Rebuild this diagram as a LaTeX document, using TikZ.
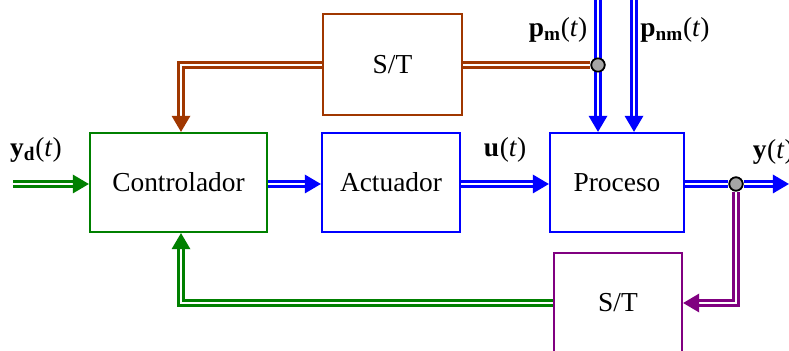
\documentclass[tikz,border=0pt]{standalone}
\usepackage{fontspec}
\setmainfont{Liberation Serif}
\usetikzlibrary{arrows.meta,positioning}

\definecolor{ctlgreen}{RGB}{0,128,0}
\definecolor{procblue}{RGB}{0,0,255}
\definecolor{stbrown}{RGB}{160,55,0}
\definecolor{stpurple}{RGB}{128,0,128}

\newcommand{\sig}[2]{\textbf{#1}\textsubscript{\textbf{#2}}(\textit{t})}

\begin{document}
\begin{tikzpicture}[
    font=\fontsize{19.5}{23}\selectfont,
    block/.style={draw, line width=1.5pt, minimum height=2.475cm, inner sep=0pt},
    signal/.style={line width=1.9pt, double=white, double distance=1.9pt, line join=miter},
    tip/.style={-{Triangle[length=11.5pt, width=13pt]}},
    junction/.style={circle, draw=black, fill=gray!70, line width=1.2pt, inner sep=0pt, minimum size=9.5pt}
  ]
  \useasboundingbox (0,0) rectangle (19.725,8.75);

  % blocks
  \node [block, draw=ctlgreen, minimum width=4.425cm] (ctrl) at (4.4625,4.1875) { Controlador };
  \node [block, draw=procblue, minimum width=3.45cm] (act) at (9.775,4.1875) { Actuador };
  \node [block, draw=procblue, minimum width=3.35cm] (proc) at (15.425,4.1875) { Proceso };
  \node [block, draw=stbrown, minimum width=3.475cm, minimum height=2.525cm] (stm) at (9.8125,7.1375) { S/T };
  \node [block, draw=stpurple, minimum width=3.2cm, minimum height=2.5cm] (sty) at (15.45,1.175) { S/T };

  % labels
  \node (lyd) at (0.9,5.0) { \sig{y}{d} };
  \node (lu) at (12.625,5.0) { \sig{u}{} };
  \node (ly) at (19.33,4.95) { \sig{y}{} };
  \node (lpm) at (13.95,8.0) { \sig{p}{m} };
  \node (lpnm) at (16.875,8.0) { \sig{p}{nm} };

  % free ends and corners
  \coordinate (yd) at (0.325,4.15);
  \coordinate (yout) at (19.725,4.15);
  \coordinate (pmtop) at (14.95,8.9);
  \coordinate (pnmtop) at (15.85,8.9);
  \node [junction] (jy) at (18.4,4.15) {};
  \node [junction] (jpm) at (14.95,7.125) {};

  % forward path
  \draw [signal, ctlgreen, tip] (yd) -- (ctrl.west |- yd);
  \draw [signal, procblue, tip] (ctrl.east |- yd) -- (act.west |- yd);
  \draw [signal, procblue, tip] (act.east |- yd) -- (proc.west |- yd);
  \draw [signal, procblue] (proc.east |- yd) -- (jy);
  \draw [signal, procblue, tip] (jy) -- (yout);

  % disturbances
  \draw [signal, procblue, tip] (pmtop) -- (proc.north -| pmtop);
  \draw [signal, procblue, tip] (pnmtop) -- (proc.north -| pnmtop);

  % measured disturbance feedforward
  \draw [signal, stbrown] (jpm) -- (stm.east |- jpm);
  \draw [signal, stbrown, tip] (stm.west |- jpm) -| (4.525,0 |- ctrl.north);

  % output feedback
  \draw [signal, stpurple, tip] (jy) |- (sty.east);
  \draw [signal, ctlgreen, tip] (sty.west) -| (4.525,0 |- ctrl.south);

  % redraw junctions on top
  \node [junction] at (jy) {};
  \node [junction] at (jpm) {};
\end{tikzpicture}
\end{document}
